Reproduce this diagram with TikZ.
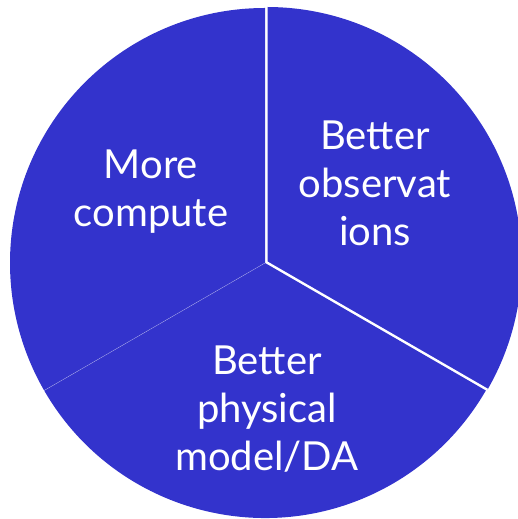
\documentclass[tikz,border=0pt]{standalone}
\usepackage{fontspec}
\setmainfont{Lato}
\begin{document}
\begin{tikzpicture}[x=1pt,y=1pt]
  \definecolor{pieblue}{RGB}{51,51,204}
  \tikzset{
    slice/.style={fill=pieblue, draw=none},
    seam/.style={draw=white, line width=1.6pt},
    label/.style={text=white, align=center, font=\fontsize{40}{48}\selectfont, inner sep=0pt}
  }
  \useasboundingbox (0,0) rectangle (518,519);
  \coordinate (c) at (265,256);
  % left and bottom slices
  \fill[slice] (c) -- ++(90:255) arc[start angle=90, end angle=210, radius=255] -- cycle;
  \fill[slice] (c) -- ++(210:255) arc[start angle=210, end angle=330, radius=255] -- cycle;
  \draw[white, opacity=0.45, line width=0.4pt] (c) -- ++(210:255);
  % right slice, pulled out a little along its bisector
  \begin{scope}[shift={(30:2)}]
    \coordinate (cr) at (265,256);
    \fill[slice] (cr) -- ++(90:255) arc[start angle=90, end angle=-30, radius=255] -- cycle;
    \draw[seam] (cr) ++(90:258) -- (cr) -- ++(-30:255);
  \end{scope}
  \clip (0,0) rectangle (518,519);
  \node[label] (compute) at (151,327) {More\\compute};
  \node[label] (obs) at (375,336) {Better\\observat\\ions};
  \node[label] (model) at (267,110) {Better\\physical\\model/DA};
\end{tikzpicture}
\end{document}
